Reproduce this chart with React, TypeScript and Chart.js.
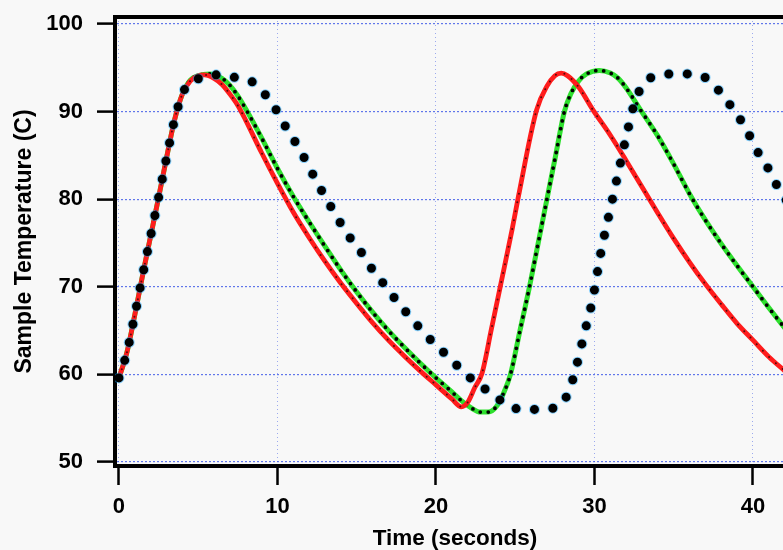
import React, { useEffect, useRef } from "react";
import { Chart, registerables } from "chart.js";

Chart.register(...registerables);

// ---- data ----
const redTime = [0, 0.5, 1, 1.5, 2, 2.5, 3, 3.5, 4, 4.5, 5, 5.4, 6, 6.5, 7, 7.5, 8, 9, 10, 11, 12, 13, 14, 15, 16, 17, 18, 19, 20, 21, 21.6, 22, 22.45, 22.9, 23.5, 24.1, 24.8, 25.2, 26.35, 27, 27.5, 27.9, 28.3, 29, 29.9, 31, 32, 33, 34, 35, 36, 37, 38, 39, 40, 41, 42, 43];
const redTemp = [59.6, 62.5, 66.8, 71.4, 75.8, 80.2, 84.7, 89.0, 92.0, 93.5, 94.1, 94.2, 93.8, 93.1, 92.0, 90.7, 89.0, 85.3, 81.8, 78.5, 75.6, 72.9, 70.4, 68.1, 65.9, 63.9, 62.1, 60.4, 58.8, 57.2, 56.3, 56.8, 58.5, 60.1, 65.2, 70.4, 76.5, 80.3, 90.2, 92.9, 94.1, 94.4, 94.1, 92.8, 90.2, 87.3, 84.4, 81.4, 78.4, 75.5, 72.8, 70.3, 68.0, 65.8, 63.9, 62.0, 60.4, 58.8];

const greenTime = [0, 0.5, 1, 1.5, 2, 2.5, 3, 3.5, 4, 4.5, 5, 5.7, 6.5, 7, 7.5, 8, 9, 10, 11, 12, 13, 14, 15, 16, 17, 18, 19, 20, 21, 21.6, 22.2, 22.8, 23.3, 23.8, 24.25, 24.7, 25.3, 25.9, 26.45, 27, 27.55, 28.1, 28.5, 29, 29.5, 30.3, 31, 31.5, 32, 32.9, 34, 35, 36, 37, 38, 39, 40, 41, 42, 43];
const greenTemp = [59.6, 62.5, 66.8, 71.4, 75.8, 80.2, 84.7, 89.0, 92.0, 93.6, 94.1, 94.3, 93.8, 93.0, 91.8, 90.3, 87.0, 83.5, 80.3, 77.4, 74.6, 71.9, 69.4, 67.1, 65.0, 63.1, 61.3, 59.6, 58.0, 57.0, 56.2, 55.7, 55.7, 56.3, 57.8, 60.0, 65.0, 70.0, 75.0, 80.0, 85.0, 90.0, 92.0, 93.5, 94.3, 94.7, 94.4, 93.8, 92.7, 90.2, 87.2, 84.0, 80.6, 77.6, 74.9, 72.4, 70.0, 67.6, 65.3, 63.1];

const dotTime = [0, 0.5, 1, 1.5, 2, 2.5, 3, 3.5, 4, 4.5, 5.1, 5.7, 6.5, 7.3, 8.4, 9.2, 9.95, 10.6, 11.3, 11.9, 12.5, 13.1, 13.8, 14.5, 15.3, 16.05, 16.85, 17.6, 18.5, 19.3, 20.15, 21.0, 21.9, 22.9, 23.8, 24.8, 25.9, 26.8, 27.5, 27.9, 28.45, 28.8, 29.35, 29.9, 30.4, 31.0, 31.5, 32.0, 32.5, 33.1, 34.0, 35.1, 36.2, 37.3, 38.1, 38.9, 39.6, 40.2, 40.9, 41.5, 42.2, 43];
const dotTemp = [59.6, 62.5, 66.8, 71.4, 75.8, 80.2, 84.7, 89.0, 92.0, 93.4, 93.8, 94.2, 94.2, 93.9, 93.4, 92.0, 90.1, 88.0, 86.0, 84.0, 81.9, 80.0, 77.8, 75.8, 73.9, 71.8, 70.0, 68.2, 66.3, 64.6, 63.1, 61.6, 60.0, 58.6, 57.4, 56.2, 56.0, 56.0, 56.2, 56.5, 58.4, 60.5, 64.6, 68.7, 73.9, 78.9, 83.0, 87.1, 90.8, 93.2, 94.1, 94.3, 94.3, 93.5, 91.8, 89.9, 87.9, 85.7, 83.7, 81.6, 79.6, 77.2];

const xTickValues = [0, 10, 20, 30, 40];
const yTickValues = [50, 60, 70, 80, 90, 100];
const xTitle = "Time (seconds)";
const yTitle = "Sample Temperature (C)";

const X_MIN = -0.25;
const X_MAX = 42.65;
const Y_MIN = 49.54;
const Y_MAX = 100.8;

function pts(t: number[], v: number[]) {
  return t.map((x, i) => ({ x, y: v[i] }));
}

export default function App() {
  const ref = useRef<HTMLCanvasElement>(null);

  useEffect(() => {
    const canvas = ref.current;
    if (!canvas) return;
    const family = "'Liberation Sans', Arial, sans-serif";
    const tickFont = { family, weight: "bold" as const, size: 22 };
    const titleFont = { family, weight: "bold" as const, size: 22.5, lineHeight: 1 };

    const redData = pts(redTime, redTemp);
    const greenData = pts(greenTime, greenTemp);
    const dotData = pts(dotTime, dotTemp);

    const common = {
      pointRadius: 0,
      pointHoverRadius: 0,
      fill: false,
      cubicInterpolationMode: "monotone" as const,
      borderJoinStyle: "round" as const,
    };

    const chart = new Chart(canvas, {
      type: "line",
      data: {
        datasets: [
          { ...common, data: dotData, borderColor: "#000000", borderWidth: 9, borderDash: [0, 18.5], borderCapStyle: "round" },
          { ...common, data: dotData, borderColor: "rgba(0,160,255,0.45)", borderWidth: 11, borderDash: [0, 18.5], borderCapStyle: "round" },
          { ...common, data: redData, borderColor: "rgba(0,0,0,0.65)", borderWidth: 2, borderDash: [0, 9], borderCapStyle: "round" },
          { ...common, data: redData, borderColor: "#ff1c1c", borderWidth: 4.8, borderCapStyle: "round" },
          { ...common, data: greenData, borderColor: "#000000", borderWidth: 3.8, borderDash: [0, 8], borderCapStyle: "round" },
          { ...common, data: greenData, borderColor: "#2ee02e", borderWidth: 5, borderCapStyle: "round" },
        ],
      },
      options: {
        responsive: false,
        maintainAspectRatio: false,
        animation: false,
        events: [],
        layout: { padding: 0 },
        plugins: { legend: { display: false }, tooltip: { enabled: false } },
        scales: {
          x: {
            type: "linear",
            position: "bottom",
            min: X_MIN,
            max: X_MAX,
            afterBuildTicks: (s: any) => {
              s.ticks = xTickValues.map((value) => ({ value }));
            },
            afterFit: (s: any) => {
              s.height = 84;
              s.paddingLeft = 0;
              s.paddingRight = 0;
            },
            ticks: { font: tickFont, color: "#000", padding: 9, maxRotation: 0, autoSkip: false },
            grid: {
              color: "rgba(80,105,230,0.55)",
              lineWidth: 1,
              tickLength: 19,
              tickColor: "#000",
              tickWidth: 2.5,
              tickBorderDash: [],
            },
            border: { display: true, color: "#000", width: 4, dash: [1, 3] },
            title: { display: true, text: xTitle, color: "#000", font: titleFont, padding: { top: 0, bottom: 0 } },
          },
          x2: {
            type: "linear",
            position: "top",
            min: X_MIN,
            max: X_MAX,
            afterFit: (s: any) => {
              s.height = 17;
              s.paddingLeft = 0;
              s.paddingRight = 0;
            },
            ticks: { display: false },
            grid: { display: false },
            border: { display: true, color: "#000", width: 4 },
          },
          y: {
            type: "linear",
            position: "left",
            min: Y_MIN,
            max: Y_MAX,
            afterBuildTicks: (s: any) => {
              s.ticks = yTickValues.map((value) => ({ value }));
            },
            afterFit: (s: any) => {
              s.width = 115;
              s.paddingTop = 0;
              s.paddingBottom = 0;
            },
            ticks: { font: tickFont, color: "#000", padding: 14, autoSkip: false },
            grid: {
              color: "rgba(45,75,230,0.75)",
              lineWidth: 1.2,
              tickLength: 18,
              tickColor: "#000",
              tickWidth: 2.5,
              tickBorderDash: [],
            },
            border: { display: true, color: "#000", width: 4, dash: [2, 2] },
            title: { display: true, text: yTitle, color: "#000", font: { ...titleFont, size: 23 }, padding: { top: 13.5, bottom: 0 } },
          },
        },
      },
    } as any);

    return () => chart.destroy();
  }, []);

  return (
    <div
      style={{
        position: "fixed",
        left: 0,
        top: 0,
        width: 783,
        height: 550,
        overflow: "hidden",
        background: "#f8f8f8",
      }}
    >
      <canvas ref={ref} width={795} height={550} style={{ display: "block", width: 795, height: 550 }} />
    </div>
  );
}
